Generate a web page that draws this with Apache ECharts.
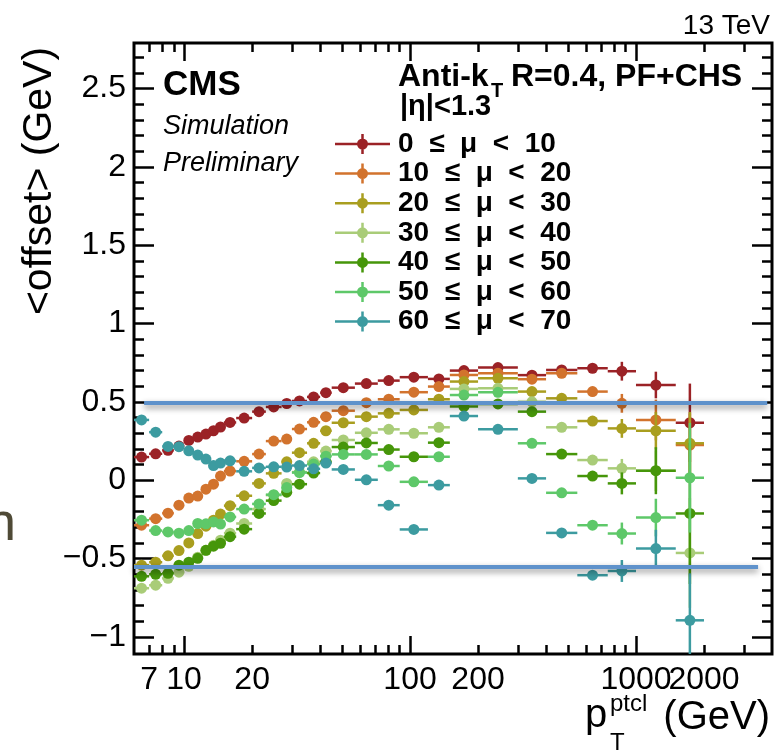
<!DOCTYPE html>
<html>
<head>
<meta charset="utf-8">
<title>offset vs pT</title>
<script src="https://cdn.jsdelivr.net/npm/echarts@6.0.0/dist/echarts.min.js"></script>
<style>
  html, body { margin: 0; padding: 0; background: #fff; }
  #main { width: 776px; height: 752px; }
</style>
</head>
<body>
<div id="main"></div>
<script>
// pT bin edges in GeV (30 bins)
var binEdges = [6, 7, 8, 9, 10, 11, 12, 13, 14, 15, 17, 20, 23, 27, 30, 35, 40, 45, 57, 72, 90, 120, 150, 200, 300, 400, 550, 750, 1000, 1500, 2000];

var muNames = ['0  ≤  μ  <  10', '10  ≤  μ  <  20', '20  ≤  μ  <  30', '30  ≤  μ  <  40',
  '40  ≤  μ  <  50', '50  ≤  μ  <  60', '60  ≤  μ  <  70'];
var muColors = ['#9b2226', '#d2732d', '#a99e1f', '#a9cc78', '#46960a', '#5ec869', '#3c9ba0'];

// <offset> in GeV per bin
var offMu0 = [0.147, 0.168, 0.19, 0.217, 0.253, 0.275, 0.294, 0.315, 0.339, 0.368, 0.396, 0.437, 0.467, 0.489, 0.505, 0.531, 0.558, 0.59, 0.616, 0.635, 0.657, 0.646, 0.699, 0.718, 0.67, 0.703, 0.714, 0.695, 0.607, 0.366];
var offMu10 = [-0.288, -0.246, -0.211, -0.16, -0.115, -0.102, -0.058, -0.026, 0.026, 0.058, 0.12, 0.166, 0.249, 0.262, 0.326, 0.369, 0.405, 0.443, 0.494, 0.516, 0.561, 0.597, 0.671, 0.682, 0.644, 0.682, 0.565, 0.49, 0.384, 0.224];
var offMu20 = [-0.543, -0.524, -0.483, -0.45, -0.401, -0.341, -0.294, -0.256, -0.217, -0.163, -0.1, -0.021, 0.043, 0.117, 0.175, 0.235, 0.315, 0.366, 0.405, 0.426, 0.448, 0.516, 0.629, 0.65, 0.565, 0.522, 0.377, 0.33, 0.315, 0.235];
var offMu30 = [-0.69, -0.671, -0.627, -0.588, -0.55, -0.492, -0.448, -0.416, -0.384, -0.339, -0.277, -0.185, -0.096, -0.021, 0.051, 0.117, 0.185, 0.256, 0.302, 0.324, 0.299, 0.337, 0.582, 0.586, 0.5, 0.337, 0.128, 0.075, 0.06, -0.465];
var offMu40 = [-0.614, -0.601, -0.595, -0.543, -0.524, -0.499, -0.448, -0.422, -0.403, -0.361, -0.313, -0.213, -0.131, -0.077, -0.026, 0.045, 0.117, 0.211, 0.237, 0.195, 0.149, 0.239, 0.47, 0.486, 0.437, 0.166, 0.026, -0.021, 0.06, -0.213];
var offMu50 = [-0.256, -0.322, -0.331, -0.339, -0.322, -0.277, -0.279, -0.267, -0.281, -0.235, -0.185, -0.152, -0.093, -0.048, 0.048, 0.102, 0.153, 0.164, 0.164, 0.09, -0.011, 0.149, 0.543, 0.56, 0.235, -0.081, -0.288, -0.341, -0.239, 0.015];
var offMu60 = [0.384, 0.306, 0.215, 0.213, 0.187, 0.16, 0.134, 0.093, 0.109, 0.123, 0.056, 0.078, 0.085, 0.083, 0.093, 0.072, 0.109, 0.068, 0.002, -0.16, -0.315, -0.032, 0.409, 0.324, 0.011, -0.337, -0.607, -0.58, -0.437, -0.895];

// statistical errors (GeV) per bin
var errMu0 = [0,0,0,0,0,0,0,0,0,0,0,0,0,0,0,0,0,0,0,0.01, 0.01,0.01,0.01,0.01,0.01,0.015,0.02,0.06,0.085,0.25];
var errMu10 = [0,0,0,0,0,0,0,0,0,0,0,0,0,0,0,0,0,0,0,0.01, 0.01,0.01,0.01,0.01,0.01,0.02,0.03,0.06,0.13,0.2];
var errMu20 = [0,0,0,0,0,0,0,0,0,0,0,0,0,0,0,0,0,0,0,0.01, 0.01,0.01,0.01,0.01,0.01,0.02,0.03,0.06,0.12,0.2];
var errMu30 = [0,0,0,0,0,0,0,0,0,0,0,0,0,0,0,0,0,0,0,0.01, 0.01,0.01,0.01,0.02,0.02,0.02,0.03,0.06,0.13,0.35];
var errMu40 = [0,0,0,0,0,0,0,0,0,0,0,0,0,0,0,0,0,0,0,0.01, 0.01,0.01,0.01,0.02,0.02,0.02,0.03,0.07,0.15,0.45];
var errMu50 = [0,0,0,0,0,0,0,0,0,0,0,0,0,0,0,0,0,0,0,0.01, 0.01,0.01,0.02,0.02,0.02,0.02,0.03,0.07,0.12,0.35];
var errMu60 = [0,0,0,0,0,0,0,0,0,0,0,0,0,0,0,0,0,0,0,0.01, 0.01,0.01,0.02,0.02,0.02,0.02,0.03,0.07,0.12,0.3];

var xTickLabels = [7, 10, 20, 100, 200, 1000, 2000];
var yTickLabels = [-1, -0.5, 0, 0.5, 1, 1.5, 2, 2.5];

// the two blue guide lines drawn over the plot (GeV levels, pT start / end)
var guideLevels = [0.492, -0.556];
var guideStart = [6.65, 6.0];
var guideEnd = [3810, 3470];

var offsets = [offMu0, offMu10, offMu20, offMu30, offMu40, offMu50, offMu60];
var errors = [errMu0, errMu10, errMu20, errMu30, errMu40, errMu50, errMu60];

var lg = Math.log10;
var xMin = lg(6), xMax = lg(4000);
var yMin = -1.11, yMax = 2.79;

// log axis ticks as in ROOT: minor at 2..9 x decade, major at decades
var xMinor = [], xMajor = [lg(10), lg(100), lg(1000)];
[1, 10, 100, 1000].forEach(function (d) {
  for (var k = 2; k < 10; k++) {
    var v = d * k;
    if (v > 6 && v < 4000) xMinor.push(lg(v));
  }
});
var yMinor = [];
for (var i = -10; i <= 27; i++) yMinor.push(i / 10);

// labels split over two axes so that 1000 and 2000 may overlap as in the original
var xLabelsA = xTickLabels.filter(function (v, k) { return k % 2 === 0; }).map(lg);
var xLabelsB = xTickLabels.filter(function (v, k) { return k % 2 === 1; }).map(lg);

var black = '#000';
var font = 'Liberation Sans, Helvetica, Arial, sans-serif';

function renderItem(params, api) {
  var x = api.value(0), y = api.value(1), lo = api.value(2), hi = api.value(3), e = api.value(4);
  var c = api.coord([x, y]);
  var l = api.coord([lo, y]), r = api.coord([hi, y]);
  var t = api.coord([x, y + e]), b = api.coord([x, y - e]);
  var color = api.visual('color');
  return {
    type: 'group',
    children: [
      { type: 'line', shape: { x1: l[0], y1: c[1], x2: r[0], y2: c[1] }, style: { stroke: color, lineWidth: 2.5 } },
      { type: 'line', shape: { x1: c[0], y1: t[1], x2: c[0], y2: b[1] }, style: { stroke: color, lineWidth: 2.5 } },
      { type: 'circle', shape: { cx: c[0], cy: c[1], r: 5.5 }, style: { fill: color } }
    ]
  };
}

var series = offsets.map(function (vals, s) {
  var data = vals.map(function (v, j) {
    var lo = binEdges[j], hi = binEdges[j + 1];
    return [lg(Math.sqrt(lo * hi)), v, lg(lo), lg(hi), errors[s][j]];
  });
  return {
    name: muNames[s],
    type: 'custom',
    renderItem: renderItem,
    clip: true,
    itemStyle: { color: muColors[s] },
    encode: { x: 0, y: 1 },
    data: data
  };
});

series.push({
  name: 'guides',
  type: 'line',
  data: [],
  z: 10,
  markLine: {
    silent: true,
    animation: false,
    symbol: ['none', 'none'],
    label: { show: false },
    lineStyle: {
      color: '#5f92cb', width: 4, type: 'solid',
      shadowColor: 'rgba(0,0,0,0.45)', shadowBlur: 6, shadowOffsetY: 3
    },
    data: guideLevels.map(function (yv, k) {
      return [{ coord: [lg(guideStart[k]), yv] }, { coord: [lg(guideEnd[k]), yv] }];
    })
  }
});

function xAxisDef(pos, ticks, len, labels) {
  return {
    type: 'value', position: pos, min: xMin, max: xMax,
    axisLine: { show: false, onZero: false }, splitLine: { show: false },
    axisTick: { inside: true, length: len, customValues: ticks, lineStyle: { color: black, width: 2.5 } },
    axisLabel: labels ? {
      customValues: labels,
      hideOverlap: false,
      formatter: function (v) { return String(Math.round(Math.pow(10, v))); },
      fontFamily: font, fontSize: 32, color: black, margin: 10
    } : { show: false }
  };
}
function yAxisDef(pos, ticks, len, labels) {
  return {
    type: 'value', position: pos, min: yMin, max: yMax,
    axisLine: { show: false, onZero: false }, splitLine: { show: false },
    axisTick: { inside: true, length: len, customValues: ticks, lineStyle: { color: black, width: 2.5 } },
    axisLabel: labels ? {
      customValues: yTickLabels,
      formatter: function (v) { return (v < 0 ? '\u2212' : '') + String(Math.abs(v)); },
      fontFamily: font, fontSize: 32, color: black, margin: 8
    } : { show: false }
  };
}

var pIcon = 'path://M0 8.75H55V11.25H0Z M26.25 0H28.75V20H26.25Z M22 10A5.5 5.5 0 1 1 33 10A5.5 5.5 0 1 1 22 10Z';

var chart = echarts.init(document.getElementById('main'), null, { renderer: 'canvas' });
chart.setOption({
  backgroundColor: '#fff',
  animation: false,
  grid: { left: 134, top: 43, width: 638, height: 611, show: true, borderColor: black, borderWidth: 3, backgroundColor: 'transparent' },
  xAxis: [
    xAxisDef('bottom', xMinor, 9, xLabelsA),
    xAxisDef('bottom', xMajor, 18, xLabelsB),
    xAxisDef('top', xMinor, 9, null),
    xAxisDef('top', xMajor, 18, null)
  ],
  yAxis: [
    yAxisDef('left', yMinor, 10, true),
    yAxisDef('left', yTickLabels, 20, false),
    yAxisDef('right', yMinor, 10, false),
    yAxisDef('right', yTickLabels, 20, false)
  ],
  legend: {
    data: muNames.map(function (n) { return { name: n, icon: pIcon }; }),
    orient: 'vertical', left: 330, top: 125,
    itemWidth: 55, itemHeight: 20, itemGap: 1.6,
    selectedMode: false,
    textStyle: { fontFamily: font, fontWeight: 'bold', fontSize: 28, color: black, padding: [0, 0, 0, 3] }
  },
  graphic: { elements: [
    { type: 'text', x: 770, y: 26, style: { text: '13 TeV', font: '28px ' + font, fill: black, align: 'right', verticalAlign: 'middle', textAlign: 'right', textVerticalAlign: 'middle' } },
    { type: 'text', x: 163, y: 85, style: { text: 'CMS', font: 'bold 35px ' + font, fill: black, align: 'left', verticalAlign: 'middle', textAlign: 'left', textVerticalAlign: 'middle' } },
    { type: 'text', x: 163, y: 126, style: { text: 'Simulation', font: 'italic 27px ' + font, fill: black, align: 'left', verticalAlign: 'middle', textAlign: 'left', textVerticalAlign: 'middle' } },
    { type: 'text', x: 163, y: 163, style: { text: 'Preliminary', font: 'italic 27px ' + font, fill: black, align: 'left', verticalAlign: 'middle', textAlign: 'left', textVerticalAlign: 'middle' } },
    { type: 'text', x: 398, y: 77, style: { text: 'Anti-k', font: 'bold 32px ' + font, fill: black, align: 'left', verticalAlign: 'middle', textAlign: 'left', textVerticalAlign: 'middle' } },
    { type: 'text', x: 491, y: 91, style: { text: 'T', font: 'bold 20px ' + font, fill: black, align: 'left', verticalAlign: 'middle', textAlign: 'left', textVerticalAlign: 'middle' } },
    { type: 'text', x: 511, y: 77, style: { text: 'R=0.4, PF+CHS', font: 'bold 32px ' + font, fill: black, align: 'left', verticalAlign: 'middle', textAlign: 'left', textVerticalAlign: 'middle' } },
    { type: 'text', x: 400, y: 107, style: { text: '|η|<1.3', font: 'bold 29px ' + font, fill: black, align: 'left', verticalAlign: 'middle', textAlign: 'left', textVerticalAlign: 'middle' } },
    { type: 'text', x: 40, y: 181, rotation: Math.PI / 2, style: { text: '<offset> (GeV)', font: '41px ' + font, fill: black, align: 'center', verticalAlign: 'middle', textAlign: 'center', textVerticalAlign: 'middle' } },
    { type: 'text', x: 585, y: 716, style: { text: 'p', font: '40px ' + font, fill: black, align: 'left', verticalAlign: 'middle', textAlign: 'left', textVerticalAlign: 'middle' } },
    { type: 'text', x: 610, y: 704, style: { text: 'ptcl', font: '24px ' + font, fill: black, align: 'left', verticalAlign: 'middle', textAlign: 'left', textVerticalAlign: 'middle' } },
    { type: 'text', x: 610, y: 743, style: { text: 'T', font: '24px ' + font, fill: black, align: 'left', verticalAlign: 'middle', textAlign: 'left', textVerticalAlign: 'middle' } },
    { type: 'text', x: 770, y: 718, style: { text: '(GeV)', font: '40px ' + font, fill: black, align: 'right', verticalAlign: 'middle', textAlign: 'right', textVerticalAlign: 'middle' } },
    { type: 'text', x: -14, y: 525, style: { text: 'n', font: '54px ' + font, fill: '#4f4a36', align: 'left', verticalAlign: 'middle', textAlign: 'left', textVerticalAlign: 'middle' } }
  ] },
  series: series
});
</script>
</body>
</html>
